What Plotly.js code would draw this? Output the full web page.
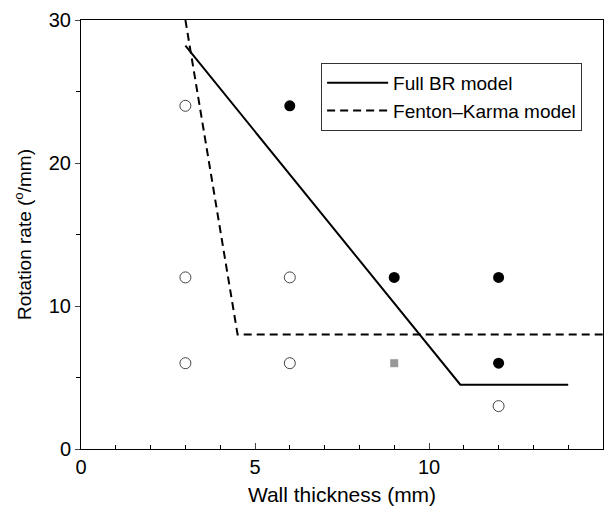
<!DOCTYPE html>
<html><head><meta charset="utf-8">
<script src="https://cdn.plot.ly/plotly-3.0.1.min.js"></script>
<style>body{margin:0;background:#fff}#c{width:614px;height:506px}</style>
</head><body><div id="c"></div>
<script>
// Model curves
const brX = [3, 10.9, 14];
const brY = [28.2, 4.5, 4.5];
const fkX = [3.0, 4.5, 15];
const fkY = [30, 8, 8];
// Simulation points
const openX = [3, 3, 3, 6, 6, 12];
const openY = [24, 12, 6, 12, 6, 3];
const filledX = [6, 9, 12, 12];
const filledY = [24, 12, 12, 6];
const grayX = [9];
const grayY = [6];

const F = 'Liberation Sans, Arial, Helvetica, sans-serif';
const traces = [
  {x: brX, y: brY, mode: 'lines', name: 'Full BR model', line: {color: '#000', width: 2}},
  {x: fkX, y: fkY, mode: 'lines', name: 'Fenton\u2013Karma model', line: {color: '#000', width: 2, dash: '8px,5px'}},
  {x: openX, y: openY, mode: 'markers', showlegend: false,
   marker: {symbol: 'circle-open', size: 11, color: '#444', line: {width: 1}}},
  {x: filledX, y: filledY, mode: 'markers', showlegend: false,
   marker: {symbol: 'circle', size: 11, color: '#000'}},
  {x: grayX, y: grayY, mode: 'markers', showlegend: false,
   marker: {symbol: 'square', size: 8, color: '#999'}}
];
const layout = {
  width: 614, height: 506,
  margin: {l: 81, r: 11, t: 20, b: 57},
  paper_bgcolor: '#fff', plot_bgcolor: '#fff',
  font: {family: F, size: 20, color: '#000'},
  showlegend: true,
  legend: {x: 0.46, y: 0.90, xanchor: 'left', yanchor: 'top',
    bgcolor: '#fff', bordercolor: '#333', borderwidth: 1, itemwidth: 61,
    font: {family: F, size: 19, color: '#000'}, tracegroupgap: 0},
  xaxis: {range: [0, 15], tickvals: [0, 5, 10, 15], ticks: 'inside', ticklen: 6,
    showline: true, mirror: true, linecolor: '#000', linewidth: 1, showgrid: false, zeroline: false,
    tickfont: {size: 20},
    minor: {dtick: 1, ticks: 'inside', ticklen: 4, tickcolor: '#000'},
    title: {text: 'Wall thickness (mm)', font: {family: F, size: 21}, standoff: 10}},
  yaxis: {range: [0, 30], tickvals: [0, 10, 20, 30], ticks: 'outside', ticklen: 5,
    showline: true, mirror: true, linecolor: '#000', linewidth: 1, showgrid: false, zeroline: false,
    tickfont: {size: 20},
    minor: {dtick: 5, ticks: 'outside', ticklen: 4, tickcolor: '#000'},
    title: {text: 'Rotation rate (<sup>o</sup>/mm)', font: {family: F, size: 19}, standoff: 12}}
};
Plotly.newPlot('c', traces, layout, {displayModeBar: false, staticPlot: true});
</script></body></html>
